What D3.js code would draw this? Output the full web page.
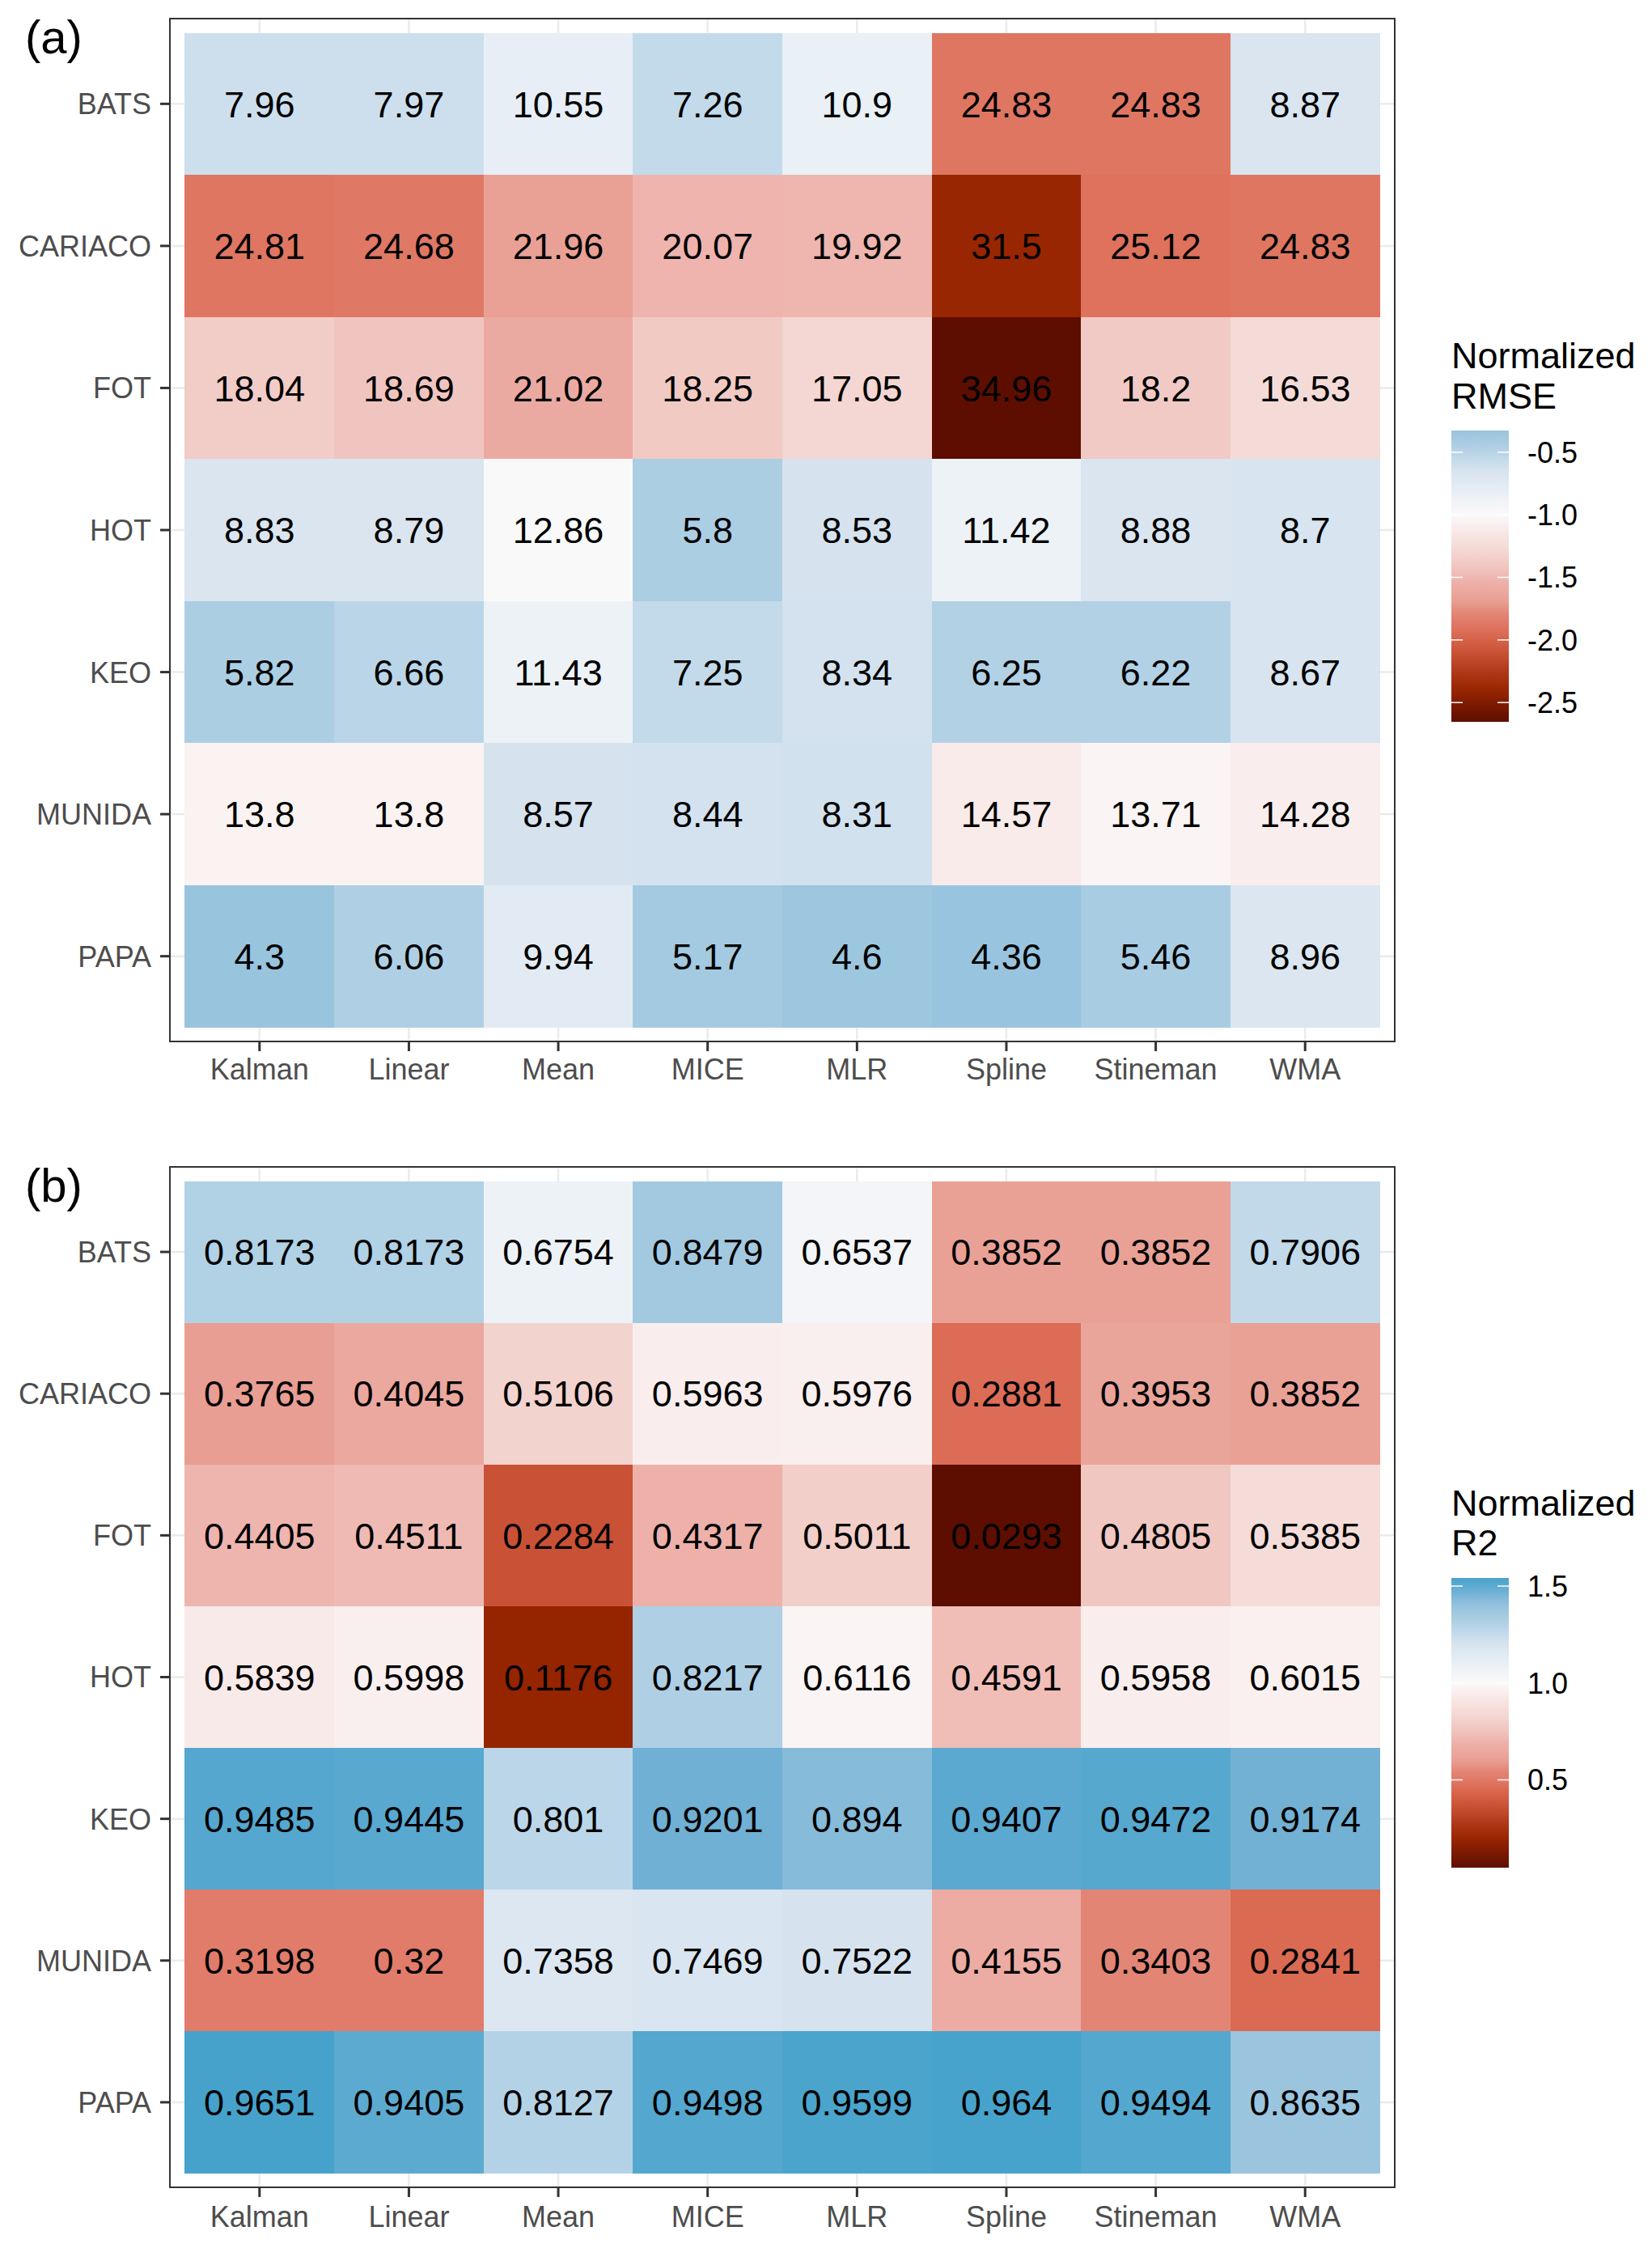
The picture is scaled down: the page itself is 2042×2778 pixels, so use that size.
<!DOCTYPE html>
<html>
<head>
<meta charset="utf-8">
<script src="https://cdn.jsdelivr.net/npm/d3@7"></script>
<style>
  html, body { margin: 0; padding: 0; background: #ffffff; }
  svg { display: block; }
  text { font-family: "Liberation Sans", Arial, Helvetica, sans-serif; }
</style>
</head>
<body>
<svg id="chart" width="2042" height="2778"></svg>
<script>
// ---------------- data ----------------
const stations = ["BATS", "CARIACO", "FOT", "HOT", "KEO", "MUNIDA", "PAPA"];
const methods = ["Kalman", "Linear", "Mean", "MICE", "MLR", "Spline", "Stineman", "WMA"];

const rmseBATS    = [7.96, 7.97, 10.55, 7.26, 10.9, 24.83, 24.83, 8.87];
const rmseCARIACO = [24.81, 24.68, 21.96, 20.07, 19.92, 31.5, 25.12, 24.83];
const rmseFOT     = [18.04, 18.69, 21.02, 18.25, 17.05, 34.96, 18.2, 16.53];
const rmseHOT     = [8.83, 8.79, 12.86, 5.8, 8.53, 11.42, 8.88, 8.7];
const rmseKEO     = [5.82, 6.66, 11.43, 7.25, 8.34, 6.25, 6.22, 8.67];
const rmseMUNIDA  = [13.8, 13.8, 8.57, 8.44, 8.31, 14.57, 13.71, 14.28];
const rmsePAPA    = [4.3, 6.06, 9.94, 5.17, 4.6, 4.36, 5.46, 8.96];

const r2BATS    = [0.8173, 0.8173, 0.6754, 0.8479, 0.6537, 0.3852, 0.3852, 0.7906];
const r2CARIACO = [0.3765, 0.4045, 0.5106, 0.5963, 0.5976, 0.2881, 0.3953, 0.3852];
const r2FOT     = [0.4405, 0.4511, 0.2284, 0.4317, 0.5011, 0.0293, 0.4805, 0.5385];
const r2HOT     = [0.5839, 0.5998, 0.1176, 0.8217, 0.6116, 0.4591, 0.5958, 0.6015];
const r2KEO     = [0.9485, 0.9445, 0.801, 0.9201, 0.894, 0.9407, 0.9472, 0.9174];
const r2MUNIDA  = [0.3198, 0.32, 0.7358, 0.7469, 0.7522, 0.4155, 0.3403, 0.2841];
const r2PAPA    = [0.9651, 0.9405, 0.8127, 0.9498, 0.9599, 0.964, 0.9494, 0.8635];

const rmseTicks = [-0.5, -1.0, -1.5, -2.0, -2.5];
const rmseTickLabels = ["-0.5", "-1.0", "-1.5", "-2.0", "-2.5"];
const r2Ticks = [0.5, 1.0, 1.5];
const r2TickLabels = ["0.5", "1.0", "1.5"];

// diverging palette stops (position relative to midpoint, -1 = low end, +1 = high end)
const paletteU = [-1.0, -0.85, -0.75, -0.666, -0.57, -0.52, -0.48, -0.42, -0.33, -0.25, -0.17, -0.05, 0.0,
                  0.10, 0.20, 0.27, 0.33, 0.40, 0.45, 0.49, 0.53, 0.57, 1.0];
const paletteC = ["#5e0e00", "#962400", "#b33a1c", "#c95236", "#dc6b54", "#e07a68", "#e38474", "#e89e92",
                  "#edb0a9", "#f1c6c0", "#f4d8d4", "#f9eeed", "#fbfafa",
                  "#eaf0f6", "#dae5f0", "#c3daea", "#aecfe4", "#9bc5df", "#86bbda", "#71b1d4", "#5aa9d0",
                  "#45a2cb", "#1a6ea8"];

// ---------------- build ----------------
const rmseRows = [rmseBATS, rmseCARIACO, rmseFOT, rmseHOT, rmseKEO, rmseMUNIDA, rmsePAPA];
const r2Rows = [r2BATS, r2CARIACO, r2FOT, r2HOT, r2KEO, r2MUNIDA, r2PAPA];

function toCells(rows, sign) {
  const all = rows.flat();
  const mean = d3.mean(all);
  const cells = [];
  rows.forEach((row, i) => row.forEach((v, j) => {
    cells.push({ station: stations[i], method: methods[j], value: v, norm: sign * v / mean });
  }));
  return cells;
}

const svg = d3.select("#chart");
svg.append("rect").attr("width", 2042).attr("height", 2778).attr("fill", "#ffffff");

const palette = d3.scaleLinear().domain(paletteU).range(paletteC).interpolate(d3.interpolateLab).clamp(true);

let gradId = 0;
function drawPanel(opts) {
  const { cells, mid, panel, tag, tagY, title2, legend, ticks, tickLabels } = opts;
  const ext = d3.extent(cells, d => d.norm);
  const maxDist = Math.max(mid - ext[0], ext[1] - mid);
  const color = v => palette((v - mid) / maxDist);

  const x = d3.scaleBand().domain(methods).range([panel.x0, panel.x1]).paddingInner(0).paddingOuter(0.1);
  const y = d3.scaleBand().domain(stations).range([panel.y0, panel.y1]).paddingInner(0).paddingOuter(0.1);

  const g = svg.append("g");

  // grid lines
  g.append("g").selectAll("line.gx").data(methods).join("line")
    .attr("x1", d => x(d) + x.bandwidth() / 2).attr("x2", d => x(d) + x.bandwidth() / 2)
    .attr("y1", panel.y0).attr("y2", panel.y1)
    .attr("stroke", "#ebebeb").attr("stroke-width", 2.5);
  g.append("g").selectAll("line.gy").data(stations).join("line")
    .attr("y1", d => y(d) + y.bandwidth() / 2).attr("y2", d => y(d) + y.bandwidth() / 2)
    .attr("x1", panel.x0).attr("x2", panel.x1)
    .attr("stroke", "#ebebeb").attr("stroke-width", 2.5);

  // tiles
  g.append("g").selectAll("rect").data(cells).join("rect")
    .attr("x", d => x(d.method)).attr("y", d => y(d.station))
    .attr("width", x.bandwidth() + 0.5).attr("height", y.bandwidth() + 0.5)
    .attr("fill", d => color(d.norm))
    .attr("shape-rendering", "crispEdges");

  // labels
  g.append("g").selectAll("text").data(cells).join("text")
    .attr("x", d => x(d.method) + x.bandwidth() / 2)
    .attr("y", d => y(d.station) + y.bandwidth() / 2)
    .attr("dy", "0.36em")
    .attr("text-anchor", "middle")
    .attr("font-size", 45)
    .attr("fill", "#000000")
    .text(d => String(d.value));

  // panel border
  g.append("rect")
    .attr("x", panel.x0).attr("y", panel.y0)
    .attr("width", panel.x1 - panel.x0).attr("height", panel.y1 - panel.y0)
    .attr("fill", "none").attr("stroke", "#333333").attr("stroke-width", 2);

  // axes
  const xAxis = d3.axisBottom(x).tickSize(12).tickPadding(8);
  const gx = g.append("g").attr("transform", `translate(0,${panel.y1})`).call(xAxis);
  gx.select(".domain").remove();
  gx.selectAll(".tick line").attr("stroke", "#333333").attr("stroke-width", 3);
  gx.selectAll(".tick text").attr("font-size", 36).attr("fill", "#4d4d4d")
    .attr("font-family", "Liberation Sans, Arial, sans-serif").attr("dy", 0)
    .attr("y", panel.xLabelBaseline - panel.y1);

  const yAxis = d3.axisLeft(y).tickSize(12).tickPadding(11);
  const gy = g.append("g").attr("transform", `translate(${panel.x0},0)`).call(yAxis);
  gy.select(".domain").remove();
  gy.selectAll(".tick line").attr("stroke", "#333333").attr("stroke-width", 3);
  gy.selectAll(".tick text").attr("font-size", 36).attr("fill", "#4d4d4d")
    .attr("font-family", "Liberation Sans, Arial, sans-serif").attr("dy", "0.36em");

  // tag
  svg.append("text").attr("x", 31).attr("y", tagY).attr("font-size", 58).attr("fill", "#000")
    .text(tag);

  // legend
  const lg = svg.append("g");
  lg.append("text").attr("x", legend.x).attr("y", legend.t1).attr("font-size", 45).attr("fill", "#000").text("Normalized");
  lg.append("text").attr("x", legend.x).attr("y", legend.t2).attr("font-size", 45).attr("fill", "#000").text(title2);

  const ly = d3.scaleLinear().domain(ext).range([legend.y1, legend.y0]);
  const id = "grad" + (gradId++);
  const grad = svg.append("defs").append("linearGradient").attr("id", id)
    .attr("x1", 0).attr("x2", 0).attr("y1", 1).attr("y2", 0);
  const n = 80;
  d3.range(n + 1).forEach(i => {
    const v = ext[0] + (ext[1] - ext[0]) * i / n;
    grad.append("stop").attr("offset", i / n).attr("stop-color", color(v));
  });
  lg.append("rect").attr("x", legend.x).attr("y", legend.y0)
    .attr("width", legend.w).attr("height", legend.y1 - legend.y0)
    .attr("fill", `url(#${id})`);

  ticks.forEach((t, i) => {
    const yy = ly(t);
    lg.append("line").attr("x1", legend.x).attr("x2", legend.x + 14).attr("y1", yy).attr("y2", yy)
      .attr("stroke", "#ffffff").attr("stroke-width", 1.5);
    lg.append("line").attr("x1", legend.x + legend.w - 14).attr("x2", legend.x + legend.w).attr("y1", yy).attr("y2", yy)
      .attr("stroke", "#ffffff").attr("stroke-width", 1.5);
    lg.append("text").attr("x", legend.x + legend.w + 23).attr("y", yy).attr("dy", "0.36em")
      .attr("font-size", 36).attr("fill", "#000").text(tickLabels[i]);
  });
}

drawPanel({
  cells: toCells(rmseRows, -1),
  mid: -1,
  panel: { x0: 210, x1: 1724, y0: 23, y1: 1287, xLabelBaseline: 1334 },
  tag: "(a)", tagY: 66,
  title2: "RMSE",
  legend: { x: 1794, w: 71, t1: 455, t2: 505, y0: 532, y1: 892 },
  ticks: rmseTicks, tickLabels: rmseTickLabels
});

drawPanel({
  cells: toCells(r2Rows, 1),
  mid: 1,
  panel: { x0: 210, x1: 1724, y0: 1442, y1: 2703, xLabelBaseline: 2752 },
  tag: "(b)", tagY: 1485,
  title2: "R2",
  legend: { x: 1794, w: 71, t1: 1873, t2: 1922, y0: 1950, y1: 2308 },
  ticks: r2Ticks, tickLabels: r2TickLabels
});
</script>
</body>
</html>
